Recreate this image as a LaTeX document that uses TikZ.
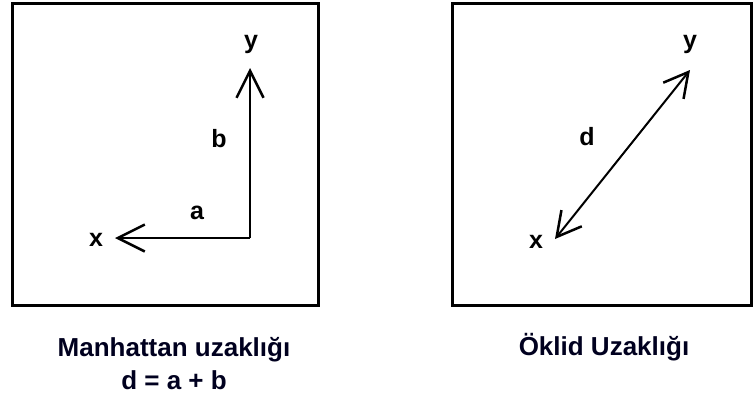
\documentclass[tikz,border=0pt]{standalone}
\usepackage{fontspec}
\setmainfont{Liberation Sans}
\usetikzlibrary{arrows.meta}
\begin{document}
\begin{tikzpicture}[x=1pt,y=-1pt,
  frame/.style={draw=black,line width=3pt},
  lbl/.style={font=\fontsize{25}{28}\selectfont\bfseries,inner sep=0pt},
  captext/.style={font=\fontsize{26}{33}\selectfont\bfseries,inner sep=0pt,align=center,text=black!88!blue},
  conn/.style={line width=1.5pt}]
\useasboundingbox[fill=white] (0,0) rectangle (754,397);
\draw[frame] (12,3) rectangle (318,305);
\draw[frame] (452,3) rectangle (751,305);
% Manhattan
\coordinate (c) at (250,238);
\coordinate (ly) at (250,68);
\coordinate (lx) at (115,238);
\node[lbl] (y1) at (251,44) {y};
\node[lbl] (x1) at (96,240) {x};
\node[lbl] (b1) at (219,139) {b};
\node[lbl] (a1) at (197,213) {a};
\draw[conn,-{Straight Barb[length=27pt,width=27pt,line width=2.5pt]}] (c) -- (ly);
\draw[conn,-{Straight Barb[length=27pt,width=27pt,line width=2.5pt]}] (c) -- (lx);
% Euclid
\coordinate (ex) at (555,239);
\coordinate (ey) at (690,70);
\node[lbl] (y2) at (690,44) {y};
\node[lbl] (x2) at (536,242) {x};
\node[lbl] (d2) at (587,137) {d};
\draw[line width=2pt,{Straight Barb[length=24pt,width=26pt,line width=2.5pt]}-{Straight Barb[length=24pt,width=26pt,line width=2.5pt]}] (ex) -- (ey);
% captions
\node[captext] (m) at (174,364) {Manhattan uzaklığı\\d = a + b};
\node[captext] (o) at (604,347) {Öklid Uzaklığı};
\end{tikzpicture}
\end{document}
